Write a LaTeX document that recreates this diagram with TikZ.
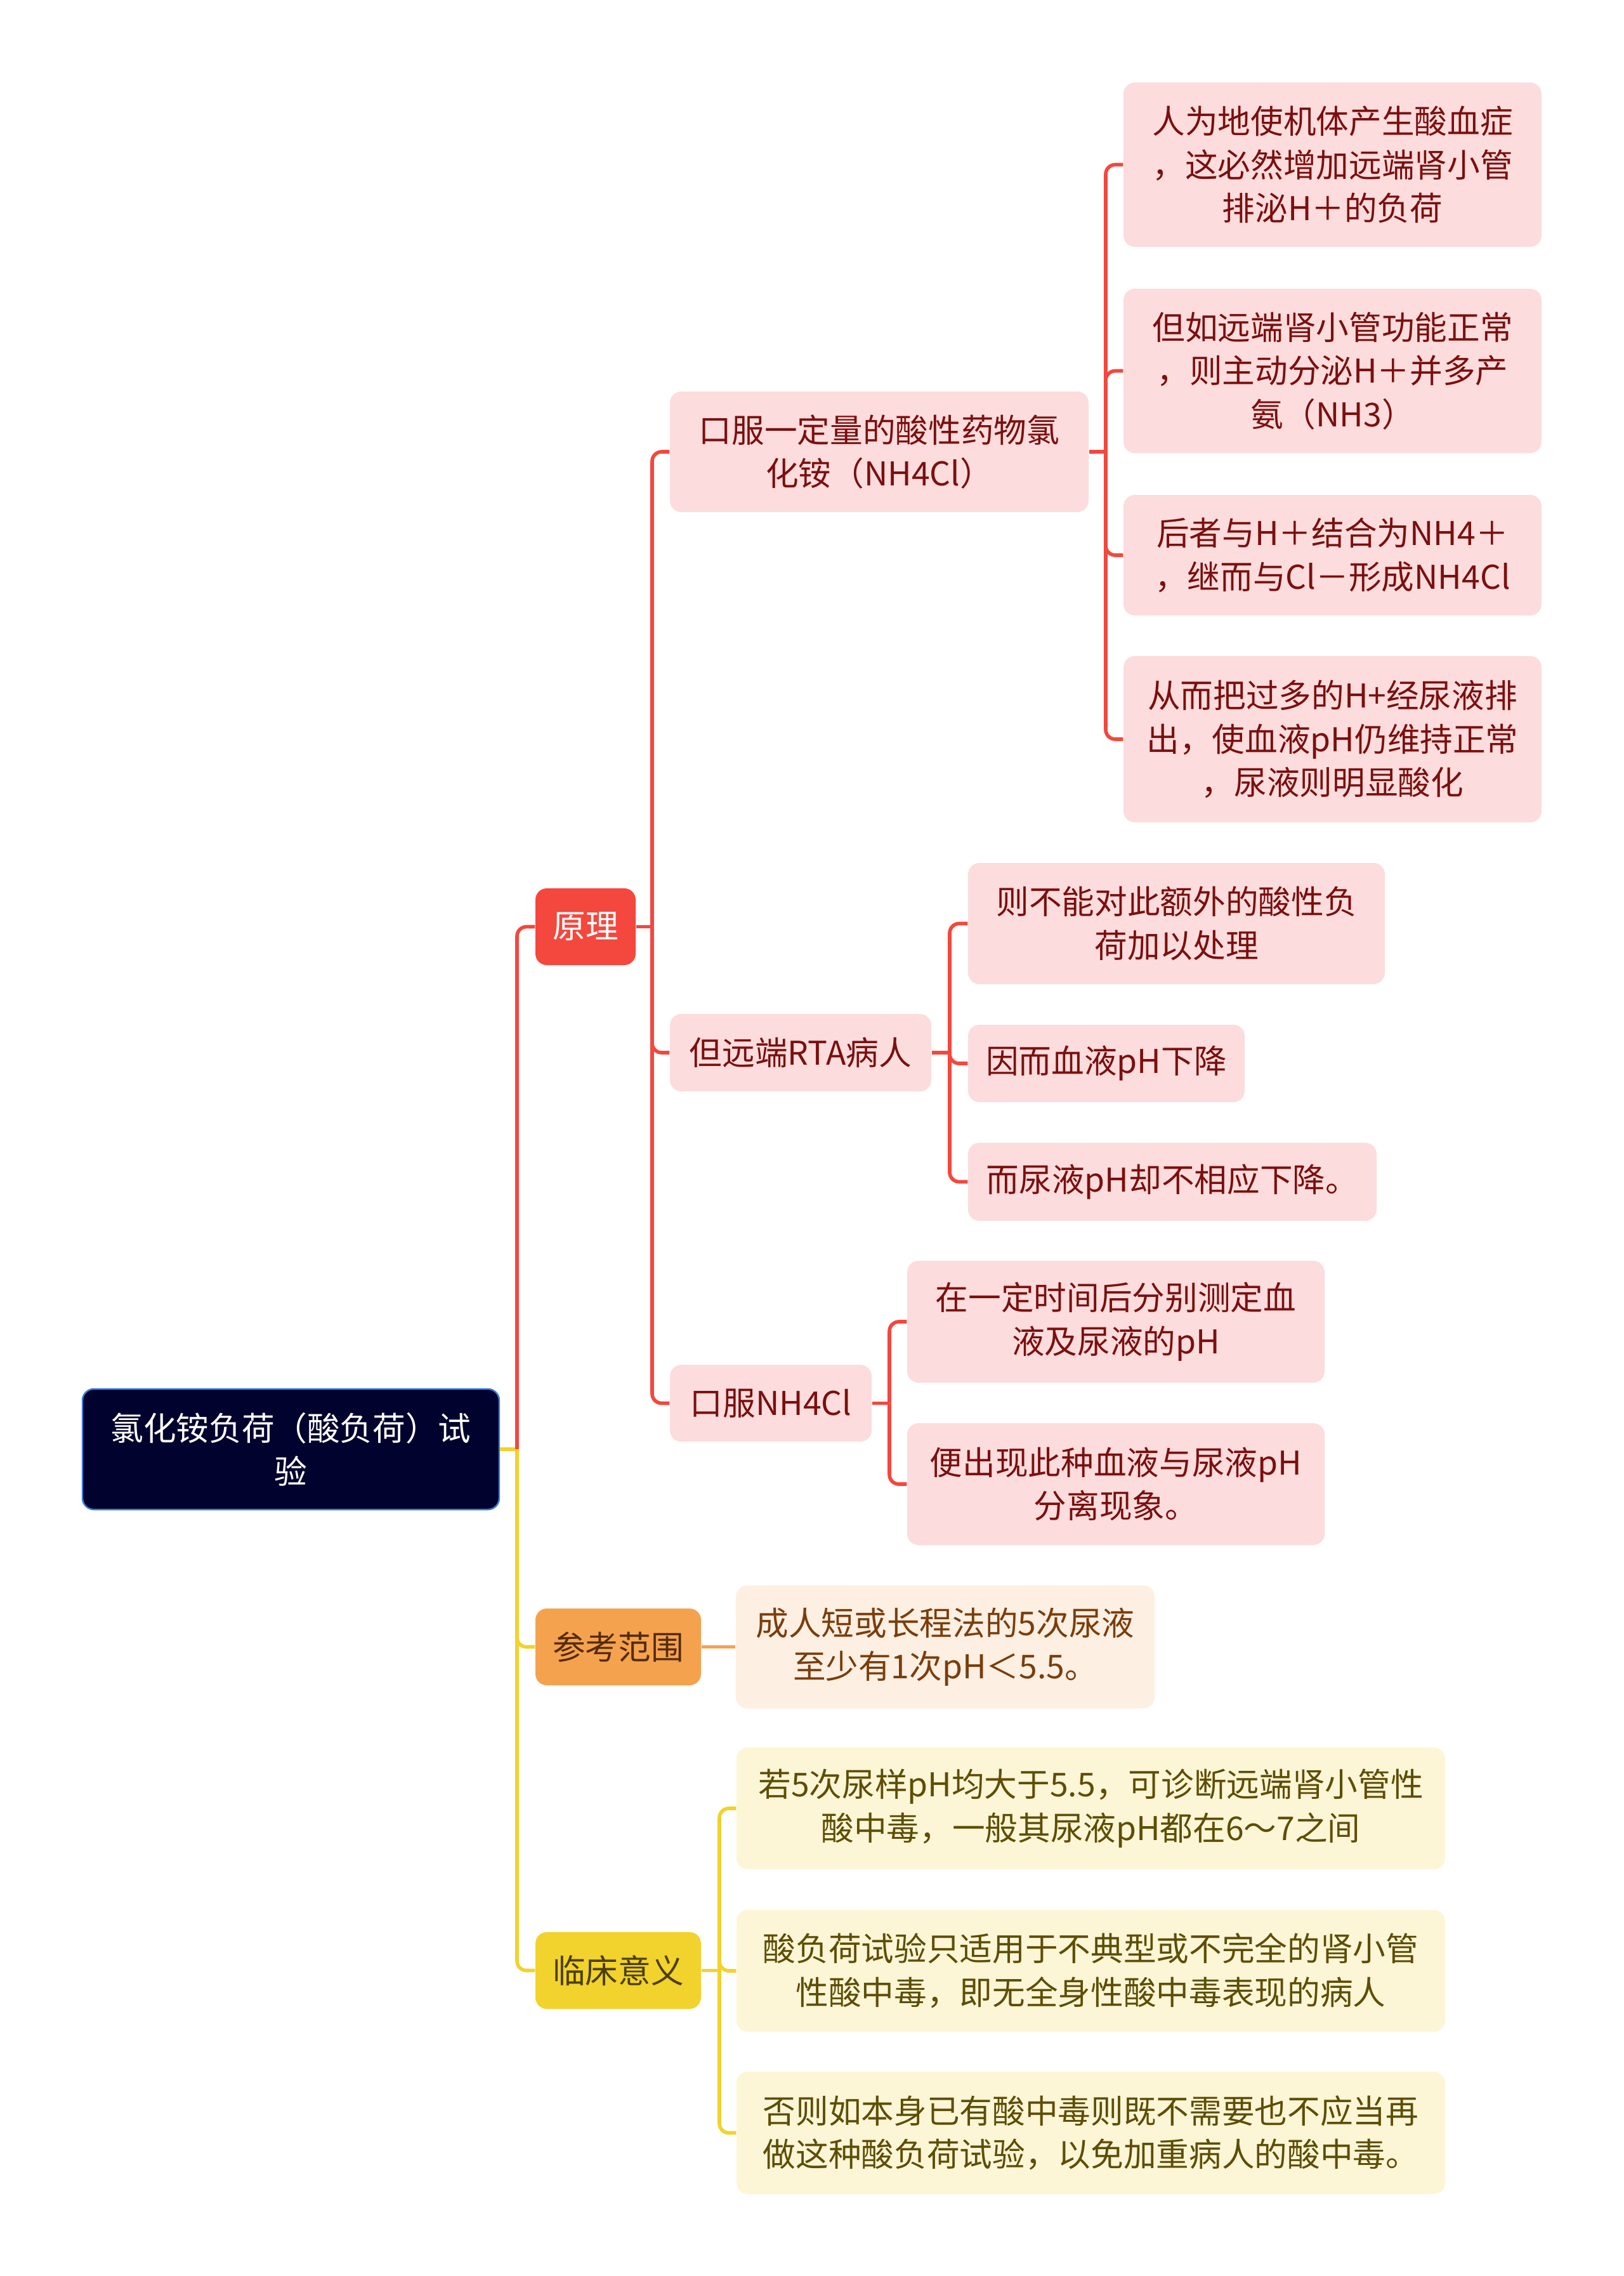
\documentclass[tikz,border=0pt]{standalone}
\usepackage{fontspec}
\setmainfont{Noto Sans CJK SC}
\usepackage{tikz}
\usetikzlibrary{shapes,positioning,calc}
\definecolor{notte}{HTML}{02022E}
\definecolor{bordoblu}{HTML}{3B7DDD}
\definecolor{rosso}{HTML}{F4473D}
\definecolor{rosa}{HTML}{FCDCDC}
\definecolor{rossoscuro}{HTML}{7B0F0F}
\definecolor{arancio}{HTML}{F5A24E}
\definecolor{pesca}{HTML}{FDEFE2}
\definecolor{marrone}{HTML}{7A3D0C}
\definecolor{giallo}{HTML}{F2D22C}
\definecolor{crema}{HTML}{FCF6D6}
\definecolor{oliva}{HTML}{5E4D05}
\newcommand{\mapfont}{\fontsize{14.7pt}{19.5pt}\selectfont}
\tikzstyle{radice} = [rectangle, rounded corners=0.18cm, fill=notte, draw=bordoblu, line width=0.7pt, text=white, align=center, inner sep=0pt, font=\mapfont]
\tikzstyle{titolo} = [rectangle, rounded corners=0.18cm, align=center, inner sep=0pt, minimum height=1.21cm, font=\mapfont]
\tikzstyle{voce} = [rectangle, rounded corners=0.18cm, align=center, inner sep=0pt, font=\mapfont]
\tikzstyle{vocerossa} = [voce, fill=rosa, text=rossoscuro]
\tikzstyle{vocearancio} = [voce, fill=pesca, text=marrone]
\tikzstyle{vocegialla} = [voce, fill=crema, text=oliva]
\tikzstyle{linea} = [line width=1.6pt, rounded corners=0.15cm]

\begin{document}
\begin{tikzpicture}
\fill[white] (0,0) rectangle (25.6,-35.87);
% radice e rami principali
\node (root) at (4.585,-22.84) [radice, minimum width=6.57cm, minimum height=1.9cm] {氯化铵负荷（酸负荷）试\\验};
\node (yuanli) at (9.23,-14.605) [titolo, fill=rosso, text=white, minimum width=1.58cm] {原理};
\node (cankao) at (9.745,-25.955) [titolo, fill=arancio, text=marrone!70!black, minimum width=2.61cm] {参考范围};
\node (linchuang) at (9.745,-31.055) [titolo, fill=giallo, text=oliva!80!black, minimum width=2.61cm] {临床意义};
% principio
\node (p1) at (13.86,-7.12) [vocerossa, minimum width=6.6cm, minimum height=1.9cm] {口服一定量的酸性药物氯\\化铵（NH4Cl）};
\node (p2) at (12.62,-16.59) [vocerossa, minimum width=4.12cm, minimum height=1.22cm] {但远端RTA病人};
\node (p3) at (12.15,-22.115) [vocerossa, minimum width=3.18cm, minimum height=1.21cm] {口服NH4Cl};
\node (a1) at (21.005,-2.595) [vocerossa, minimum width=6.59cm, minimum height=2.59cm] {人为地使机体产生酸血症\\，这必然增加远端肾小管\\排泌H＋的负荷};
\node (a2) at (21.005,-5.845) [vocerossa, minimum width=6.59cm, minimum height=2.59cm] {但如远端肾小管功能正常\\，则主动分泌H＋并多产\\氨（NH3）};
\node (a3) at (21.005,-8.75) [vocerossa, minimum width=6.59cm, minimum height=1.9cm] {后者与H＋结合为NH4＋\\，继而与Cl－形成NH4Cl};
\node (a4) at (21.005,-11.65) [vocerossa, minimum width=6.59cm, minimum height=2.62cm] {从而把过多的H+经尿液排\\出，使血液pH仍维持正常\\，尿液则明显酸化};
\node (b1) at (18.545,-14.555) [vocerossa, minimum width=6.57cm, minimum height=1.91cm] {则不能对此额外的酸性负\\荷加以处理};
\node (b2) at (17.44,-16.76) [vocerossa, minimum width=4.36cm, minimum height=1.22cm] {因而血液pH下降};
\node (b3) at (18.48,-18.625) [vocerossa, minimum width=6.44cm, minimum height=1.23cm] {而尿液pH却不相应下降。};
\node (c1) at (17.59,-20.83) [vocerossa, minimum width=6.58cm, minimum height=1.92cm] {在一定时间后分别测定血\\液及尿液的pH};
\node (c2) at (17.59,-23.39) [vocerossa, minimum width=6.58cm, minimum height=1.92cm] {便出现此种血液与尿液pH\\分离现象。};
% riferimento e significato
\node (d1) at (14.9,-25.955) [vocearancio, minimum width=6.6cm, minimum height=1.94cm] {成人短或长程法的5次尿液\\至少有1次pH＜5.5。};
\node (e1) at (17.195,-28.5) [vocegialla, minimum width=11.17cm, minimum height=1.92cm] {若5次尿样pH均大于5.5，可诊断远端肾小管性\\酸中毒，一般其尿液pH都在6～7之间};
\node (e2) at (17.195,-31.06) [vocegialla, minimum width=11.17cm, minimum height=1.92cm] {酸负荷试验只适用于不典型或不完全的肾小管\\性酸中毒，即无全身性酸中毒表现的病人};
\node (e3) at (17.195,-33.615) [vocegialla, minimum width=11.17cm, minimum height=1.93cm] {否则如本身已有酸中毒则既不需要也不应当再\\做这种酸负荷试验，以免加重病人的酸中毒。};
% punti di diramazione
\coordinate (j0) at (8.15,-22.84);
\coordinate (j1) at (10.28,-14.605);
\coordinate (j2) at (17.43,-7.12);
\coordinate (j3) at (14.97,-16.59);
\coordinate (j4) at (14.02,-22.115);
\coordinate (j5) at (11.34,-31.055);
% collegamenti
\draw[linea, giallo] (root) -- (j0);
\draw[linea, rosso] (j0) |- (yuanli.west);
\draw[linea, giallo] (j0) |- (cankao.west);
\draw[linea, giallo] (j0) |- (linchuang.west);
\draw[linea, rosso] (yuanli) -- (j1);
\foreach \n in {p1,p2,p3} \draw[linea, rosso] (j1) |- (\n.west);
\draw[linea, rosso] (p1) -- (j2);
\foreach \n in {a1,a2,a3,a4} \draw[linea, rosso] (j2) |- (\n.west);
\draw[linea, rosso] (p2) -- (j3);
\foreach \n in {b1,b2,b3} \draw[linea, rosso] (j3) |- (\n.west);
\draw[linea, rosso] (p3) -- (j4);
\foreach \n in {c1,c2} \draw[linea, rosso] (j4) |- (\n.west);
\draw[linea, arancio] (cankao) -- (d1);
\draw[linea, giallo] (linchuang) -- (j5);
\foreach \n in {e1,e2,e3} \draw[linea, giallo] (j5) |- (\n.west);
\end{tikzpicture}
\end{document}
